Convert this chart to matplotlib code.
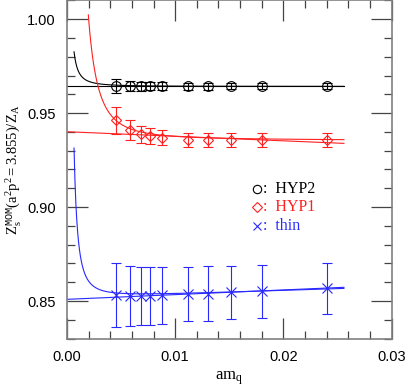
import numpy as np
import matplotlib
matplotlib.use("Agg")
import matplotlib.pyplot as plt
from matplotlib.ticker import MultipleLocator

plt.rcParams["mathtext.fontset"] = "custom"
plt.rcParams["mathtext.rm"] = "Liberation Serif"
plt.rcParams["mathtext.it"] = "Liberation Serif:italic"
plt.rcParams["mathtext.tt"] = "Liberation Mono"

# ---- data ----
amq = [0.0045, 0.0058, 0.0068, 0.0077, 0.0088, 0.0112, 0.0130, 0.0152, 0.0180, 0.0240]

hyp2_y = [0.9645, 0.9643, 0.9643, 0.9643, 0.9643, 0.9643, 0.9643, 0.9643, 0.9643, 0.9643]
hyp2_err = [0.0038, 0.0026, 0.0024, 0.0022, 0.0020, 0.0018, 0.0018, 0.0017, 0.0017, 0.0016]

hyp1_y = [0.9463, 0.9410, 0.9387, 0.9378, 0.9369, 0.9356, 0.9356, 0.9355, 0.9355, 0.9356]
hyp1_err = [0.0072, 0.0052, 0.0047, 0.0043, 0.0040, 0.0038, 0.0037, 0.0037, 0.0037, 0.0036]

thin_y = [0.8532, 0.8527, 0.8528, 0.8528, 0.8530, 0.8537, 0.8540, 0.8546, 0.8553, 0.8567]
thin_err = [0.0169, 0.0160, 0.0155, 0.0153, 0.0150, 0.0145, 0.0145, 0.0143, 0.0141, 0.0137]

# fit parameters: y = a + b / x**p + c * x  (curve), y = a_lin + c_lin * x (line)
hyp2_curve = dict(a=0.9642, b=0.0065 * 0.0012**1.7, p=1.7, c=0.0, x0=0.00065)
hyp2_line = dict(a=0.9642, c=0.0)
hyp1_curve = dict(a=0.9362, b=0.0275 * 0.0029**2.27, p=2.27, c=-0.02, x0=0.00197)
hyp1_line = dict(a=0.9401, c=-0.242)
thin_curve = dict(a=0.8518, b=0.0795 * 0.00065**2.0, p=2.0, c=0.19, x0=0.00065)
thin_line = dict(a=0.8509, c=0.25)
x_end = 0.0256

legend_labels = ["HYP2", "HYP1", "thin"]

# ---- style ----
col_black = "#000000"
col_red = "#ff2020"
col_blue = "#2828ff"

fig = plt.figure(figsize=(4.07, 3.88), dpi=100)
ax = fig.add_axes([67 / 407, 1 - 338.6 / 388, (391.5 - 67) / 407, 338.6 / 388 - 0.001])

def curve(d, x):
    return d["a"] + d["b"] / x ** d["p"] + d["c"] * x

def line(d, x):
    return d["a"] + d["c"] * x

series = [
    (hyp2_y, hyp2_err, hyp2_curve, hyp2_line, col_black, "o"),
    (hyp1_y, hyp1_err, hyp1_curve, hyp1_line, col_red, "D"),
    (thin_y, thin_err, thin_curve, thin_line, col_blue, "x"),
]

for yv, ye, cd, ld, col, mk in series:
    xc = np.linspace(cd["x0"], x_end, 600)
    ax.plot(xc, curve(cd, xc), color=col, lw=0.8, zorder=2)
    xl = np.array([0.0, x_end])
    ax.plot(xl, line(ld, xl), color=col, lw=0.8, zorder=2)
    ms = 7 if mk == "o" else (5 if mk == "D" else 7)
    ax.errorbar(amq, yv, yerr=ye, fmt=mk, color=col, mfc="none", mec=col,
                ms=ms, mew=0.8, elinewidth=0.8, capsize=3.5, capthick=0.8, zorder=3)

ax.set_xlim(0.0, 0.03)
ax.set_ylim(0.83, 1.01)
ax.xaxis.set_major_locator(MultipleLocator(0.01))
ax.xaxis.set_minor_locator(MultipleLocator(0.002))
ax.yaxis.set_major_locator(MultipleLocator(0.05))
ax.yaxis.set_minor_locator(MultipleLocator(0.01))
ax.xaxis.set_major_formatter(plt.FuncFormatter(lambda v, p: f"{v:.2f}"))
ax.yaxis.set_major_formatter(plt.FuncFormatter(lambda v, p: f"{v:.2f}"))
ax.tick_params(which="both", direction="in", top=True, right=True, color="#444444", width=0.9)
ax.tick_params(which="major", length=15, labelsize=10.5, pad=8)
ax.tick_params(which="minor", length=6)
for lab in ax.get_xticklabels() + ax.get_yticklabels():
    lab.set_fontfamily("Liberation Sans")
for s in ax.spines.values():
    s.set_color("#808080")
    s.set_linewidth(1.2)

ax.set_xlabel(r"$\mathrm{am_q}$", fontsize=12, labelpad=4)
ax.set_ylabel(r"$\mathrm{Z_s^{\mathtt{MOM}}(a^2p^2=3.855)/Z_A}$", fontsize=10.5, labelpad=3)

# legend as symbols + text
leg_x = 0.585
leg_y = [0.442, 0.389, 0.333]
for (yv, ye, cd, ld, col, mk), lab, yy in zip(series, legend_labels, leg_y):
    ms = 6 if mk == "o" else (5 if mk == "D" else 6)
    ax.plot([leg_x], [yy], marker=mk, color=col, mfc="none", mec=col, ms=ms, mew=0.8,
            transform=ax.transAxes, linestyle="none")
    ax.text(leg_x + 0.018, yy, ":  " + lab, color=col, transform=ax.transAxes, fontsize=11.5,
            family="Liberation Serif", va="center", ha="left")

fig.savefig("out.png", dpi=100)
